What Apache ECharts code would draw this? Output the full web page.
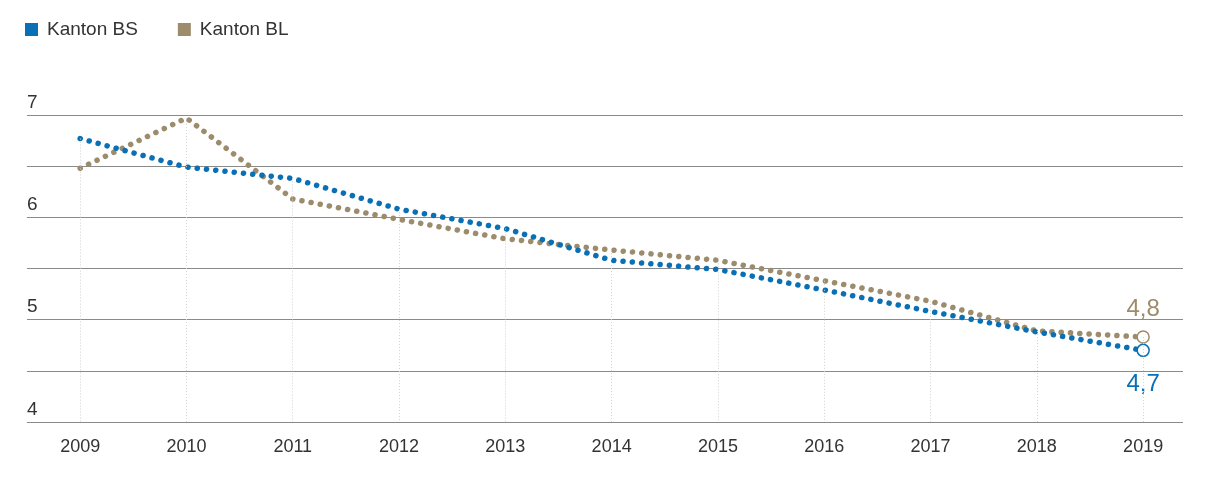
<!DOCTYPE html>
<html>
<head>
<meta charset="utf-8">
<script src="https://cdn.jsdelivr.net/npm/echarts@6/dist/echarts.min.js"></script>
<style>
html,body{margin:0;padding:0;background:#fff;}
#chart{width:1222px;height:489px;}
</style>
</head>
<body>
<div id="chart"></div>
<script>
const years = [2009, 2010, 2011, 2012, 2013, 2014, 2015, 2016, 2017, 2018, 2019];
const seriesNames = ['Kanton BS', 'Kanton BL'];
const valuesBS = [6.77, 6.49, 6.38, 6.08, 5.89, 5.58, 5.49, 5.29, 5.08, 4.88, 4.70];
const valuesBL = [6.48, 6.97, 6.18, 5.98, 5.79, 5.68, 5.58, 5.38, 5.18, 4.89, 4.83];
const yTicks = [4, 5, 6, 7];

const colors = ['#0a70b6', '#9d8c6c'];
const font = '"Liberation Sans", Arial, sans-serif';

function buildData(vals, color, pos) {
  return vals.map((v, i) => {
    const x = years[i];
    if (i === vals.length - 1) {
      return {
        value: [x, v],
        symbol: 'circle',
        symbolSize: 12,
        itemStyle: { color: '#fff', borderColor: color, borderWidth: 1.5 },
        label: {
          show: true,
          position: pos,
          distance: pos === 'top' ? 9 : 15,
          formatter: () => v.toFixed(1).replace('.', ','),
          color: color,
          fontSize: 24,
          fontFamily: font
        }
      };
    }
    return { value: [x, v], symbol: 'none' };
  });
}

const dropLines = years.map((y, i) => [
  { coord: [y, Math.max(valuesBS[i], valuesBL[i])] },
  { coord: [y, 4] }
]);

const chart = echarts.init(document.getElementById('chart'), null, { renderer: 'canvas' });
chart.setOption({
  animation: false,
  backgroundColor: '#fff',
  color: colors,
  legend: {
    left: 20,
    top: 15,
    icon: 'rect',
    itemWidth: 13,
    itemHeight: 13,
    itemGap: 40,
    textStyle: { fontSize: 19, color: '#333', fontFamily: font, padding: [0, 0, 0, 4] },
    data: seriesNames
  },
  grid: { left: 27, right: 39, top: 115, bottom: 67 },
  xAxis: {
    type: 'value',
    min: 2008.5,
    max: 2019.375,
    axisLine: { show: false },
    axisTick: { show: false },
    splitLine: { show: false },
    axisLabel: {
      customValues: years,
      formatter: v => String(v),
      color: '#333',
      fontSize: 18,
      fontFamily: font,
      margin: 16
    }
  },
  yAxis: {
    type: 'value',
    min: 4,
    max: 7,
    interval: 0.5,
    axisLine: { show: false },
    axisTick: { show: false },
    splitLine: { show: true, lineStyle: { color: '#8a8a8a', width: 1 } },
    axisLabel: {
      inside: true,
      margin: 0,
      verticalAlign: 'bottom',
      padding: [0, 0, 3, 0],
      formatter: v => (yTicks.indexOf(v) >= 0 ? String(v) : ''),
      color: '#333',
      fontSize: 19,
      fontFamily: font
    }
  },
  series: [
    {
      name: '__drop',
      type: 'line',
      data: [],
      silent: true,
      markLine: {
        silent: true,
        symbol: 'none',
        label: { show: false },
        lineStyle: { color: '#d0d0d0', width: 1, type: [1, 2] },
        data: dropLines
      }
    },
    {
      name: seriesNames[0],
      type: 'line',
      showSymbol: true,
      data: buildData(valuesBS, colors[0], 'bottom'),
      lineStyle: { color: colors[0], width: 5.5, type: [0.1, 9.2], cap: 'round' },
      itemStyle: { color: colors[0] },
      z: 3
    },
    {
      name: seriesNames[1],
      type: 'line',
      showSymbol: true,
      data: buildData(valuesBL, colors[1], 'top'),
      lineStyle: { color: colors[1], width: 5.5, type: [0.1, 9.2], cap: 'round' },
      itemStyle: { color: colors[1] },
      z: 2
    }
  ]
});
</script>
</body>
</html>
